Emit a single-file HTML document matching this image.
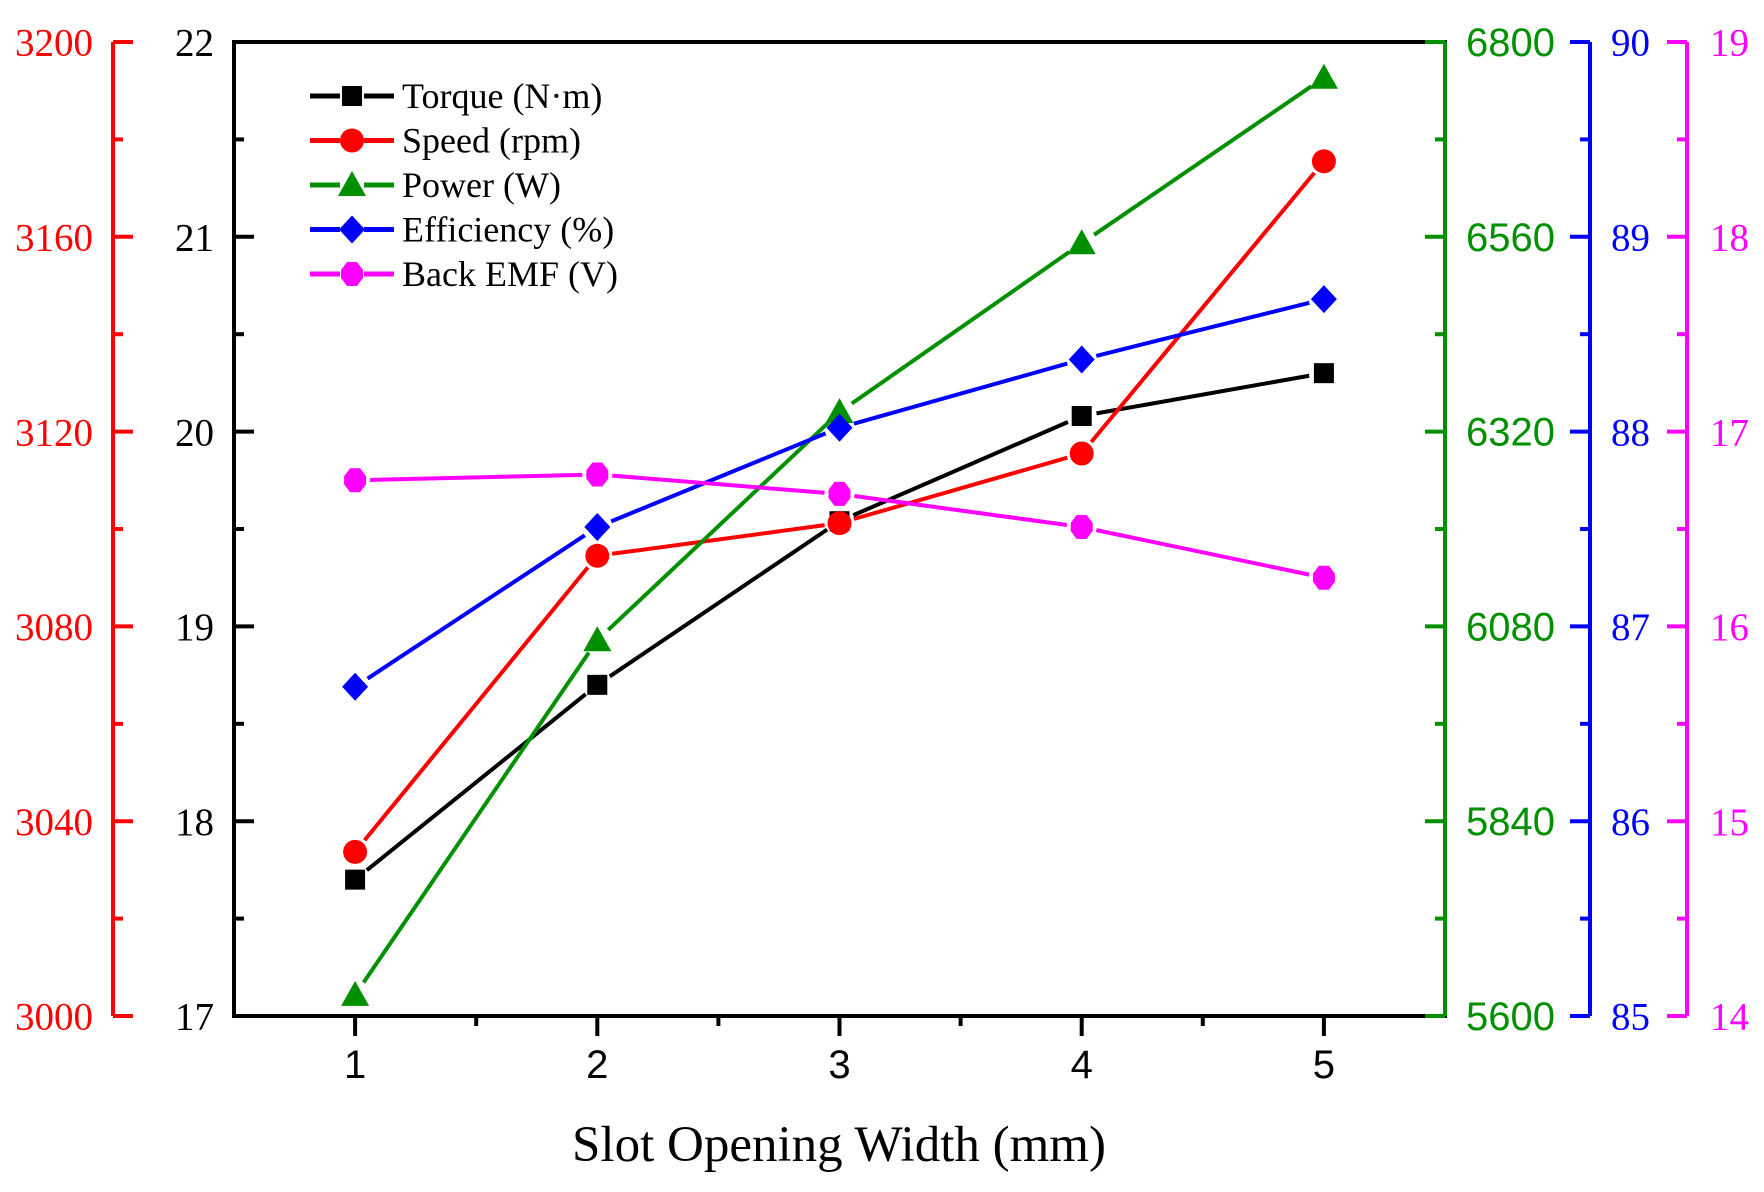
<!DOCTYPE html>
<html><head><meta charset="utf-8"><style>
html,body{margin:0;padding:0;background:#fff;}
svg{display:block;}
.serif{font-family:"Liberation Serif",serif;}
.sans{font-family:"Liberation Sans",sans-serif;}
</style></head><body>
<svg id="chart" width="1764" height="1192" viewBox="0 0 1764 1192" xmlns="http://www.w3.org/2000/svg">
<g id="axes"></g>
<g id="series"></g>
<g id="legend"></g>
<text class="serif" x="839" y="1161" font-size="51" text-anchor="middle" fill="#000">Slot Opening Width (mm)</text>
</svg>
<script>
const categories = [1, 2, 3, 4, 5];
const torque = [17.70, 18.70, 19.54, 20.08, 20.30];
const speed = [3033.7, 3094.5, 3101.2, 3115.5, 3175.5];
const power = [5626, 6063, 6344, 6552, 6756];
const efficiency = [86.69, 87.51, 88.02, 88.37, 88.68];
const backEmf = [16.75, 16.78, 16.68, 16.51, 16.25];
const xTicks = [1, 2, 3, 4, 5];
const torqueTicks = [17, 18, 19, 20, 21, 22];
const speedTicks = [3000, 3040, 3080, 3120, 3160, 3200];
const powerTicks = [5600, 5840, 6080, 6320, 6560, 6800];
const effTicks = [85, 86, 87, 88, 89, 90];
const emfTicks = [14, 15, 16, 17, 18, 19];

const NS = 'http://www.w3.org/2000/svg';
const L = 234, R = 1445, T = 42, B = 1016;
const xScale = v => L + (v - 0.5) / 5 * (R - L);
const lin = (d0, d1) => v => B - (v - d0) / (d1 - d0) * (B - T);
const yT = lin(17, 22), yS = lin(3000, 3200), yP = lin(5600, 6800), yE = lin(85, 90), yB = lin(14, 19);

function mk(tag, attrs, parent) {
  const e = document.createElementNS(NS, tag);
  for (const k in attrs) e.setAttribute(k, attrs[k]);
  parent.appendChild(e);
  return e;
}
const axes = document.getElementById('axes');
const series = document.getElementById('series');
const legend = document.getElementById('legend');

let f = mk('rect', {x: L, y: T, width: R - L, height: B - T, fill: 'none', stroke: '#000', 'stroke-width': 4}, axes);



function vAxis(name, ax, ticks, scale, color, dir, labelX, anchor, cls, fs) {
  const g = mk('g', {}, axes);
  
  
  mk('line', {x1: ax, y1: T, x2: ax, y2: B, stroke: color, 'stroke-width': 4}, g);
  for (let i = 0; i < ticks.length; i++) {
    const y = scale(ticks[i]);
    mk('line', {x1: ax, y1: y, x2: ax + dir * 20, y2: y, stroke: color, 'stroke-width': 4}, g);
    if (i < ticks.length - 1) {
      const ym = scale((ticks[i] + ticks[i + 1]) / 2);
      mk('line', {x1: ax, y1: ym, x2: ax + dir * 10, y2: ym, stroke: color, 'stroke-width': 4}, g);
    }
    const t = mk('text', {x: labelX, y: y + fs * 0.35, 'font-size': fs, fill: color, 'text-anchor': anchor, class: cls}, g);
    t.textContent = ticks[i];
    
    
  }
}
vAxis('speed-axis', 113, speedTicks, yS, '#ff0000', 1, 93, 'end', 'serif', 39);
vAxis('torque-axis', L, torqueTicks, yT, '#000', 1, 214, 'end', 'serif', 39);
vAxis('power-axis', R, powerTicks, yP, '#009000', -1, 1466, 'start', 'sans', 40);
vAxis('efficiency-axis', 1590, effTicks, yE, '#0000ff', -1, 1611, 'start', 'serif', 39);
vAxis('back-emf-axis', 1687, emfTicks, yB, '#ff00ff', -1, 1710, 'start', 'serif', 39);

const xg = mk('g', {}, axes);


for (let i = 0; i < xTicks.length; i++) {
  const x = xScale(xTicks[i]);
  mk('line', {x1: x, y1: B, x2: x, y2: B + 20, stroke: '#000', 'stroke-width': 4}, xg);
  if (i < xTicks.length - 1) {
    const xm = xScale(xTicks[i] + 0.5);
    mk('line', {x1: xm, y1: B, x2: xm, y2: B + 10, stroke: '#000', 'stroke-width': 4}, xg);
  }
  const t = mk('text', {x: x, y: 1078, 'font-size': 40, 'text-anchor': 'middle', class: 'sans', fill: '#000'}, xg);
  t.textContent = xTicks[i];
  
  
}

function marker(shape, cx, cy, color, parent) {
  let e;
  if (shape === 'square') e = mk('rect', {x: cx - 10, y: cy - 10, width: 20, height: 20, fill: color}, parent);
  else if (shape === 'circle') e = mk('circle', {cx: cx, cy: cy, r: 12, fill: color}, parent);
  else if (shape === 'triangle') e = mk('polygon', {points: `${cx},${cy - 14} ${cx + 14},${cy + 11} ${cx - 14},${cy + 11}`, fill: color}, parent);
  else if (shape === 'diamond') e = mk('polygon', {points: `${cx},${cy - 14} ${cx + 13},${cy} ${cx},${cy + 14} ${cx - 13},${cy}`, fill: color}, parent);
  else e = mk('polygon', {points: `${cx - 5},${cy - 12} ${cx + 5},${cy - 12} ${cx + 11},${cy - 4} ${cx + 11},${cy + 4} ${cx + 5},${cy + 12} ${cx - 5},${cy + 12} ${cx - 11},${cy + 4} ${cx - 11},${cy - 4}`, fill: color}, parent);
  return e;
}

const defs = [
  {name: 'torque', vals: torque, sc: yT, color: '#000', shape: 'square', label: 'Torque (N·m)'},
  {name: 'speed', vals: speed, sc: yS, color: '#ff0000', shape: 'circle', label: 'Speed (rpm)'},
  {name: 'power', vals: power, sc: yP, color: '#009000', shape: 'triangle', label: 'Power (W)'},
  {name: 'efficiency', vals: efficiency, sc: yE, color: '#0000ff', shape: 'diamond', label: 'Efficiency (%)'},
  {name: 'back-emf', vals: backEmf, sc: yB, color: '#ff00ff', shape: 'hexagon', label: 'Back EMF (V)'}
];
const GAP = 15;
defs.forEach((d, si) => {
  const g = mk('g', {}, series);
  
  
  const pts = categories.map((c, i) => [xScale(c), d.sc(d.vals[i])]);
  for (let i = 0; i < pts.length - 1; i++) {
    const [x1, y1] = pts[i], [x2, y2] = pts[i + 1];
    const len = Math.hypot(x2 - x1, y2 - y1);
    if (len <= 2 * GAP) continue;
    const ux = (x2 - x1) / len, uy = (y2 - y1) / len;
    const ln = mk('line', {x1: x1 + ux * GAP, y1: y1 + uy * GAP, x2: x2 - ux * GAP, y2: y2 - uy * GAP, stroke: d.color, 'stroke-width': 4}, g);
    
    
  }
  pts.forEach(p => {
    const m = marker(d.shape, p[0], p[1], d.color, g);
    
    
  });
  const ly = 96 + si * 44.5;
  const lg = mk('g', {}, legend);
  
  
  mk('line', {x1: 310, y1: ly, x2: 340, y2: ly, stroke: d.color, 'stroke-width': 5}, lg);
  mk('line', {x1: 364, y1: ly, x2: 394, y2: ly, stroke: d.color, 'stroke-width': 5}, lg);
  marker(d.shape, 352, ly, d.color, lg);
  const t = mk('text', {x: 402, y: ly + 12, 'font-size': 36, class: 'serif', fill: '#000'}, lg);
  t.textContent = d.label;
});
</script>
</body></html>
